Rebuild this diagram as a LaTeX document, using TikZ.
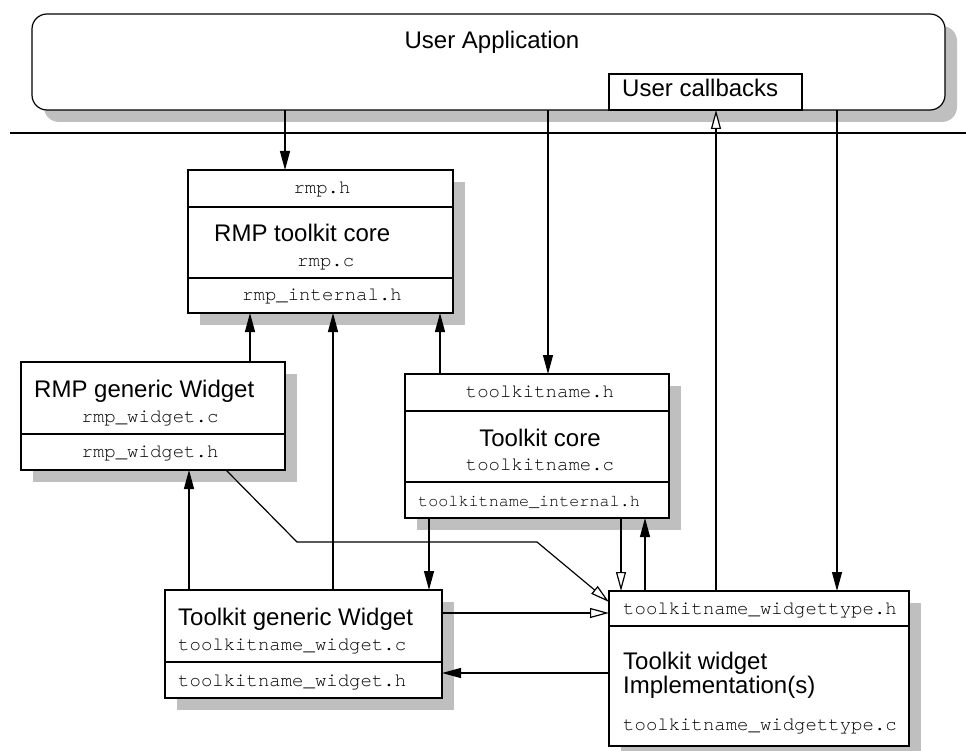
\documentclass[tikz,border=0pt]{standalone}
\usepackage{fontspec}
\setmainfont{Liberation Sans}
\setmonofont{TeX Gyre Cursor}
\usetikzlibrary{arrows.meta,shadows}
\definecolor{shadowgray}{HTML}{BFBFBF}
\tikzset{
  ln/.style={line width=1.2pt},
  boxshadow/.style={drop shadow={shadow xshift=12pt, shadow yshift=-12pt, fill=shadowgray, opacity=1}},
  box/.style={draw, line width=1.2pt, fill=white, anchor=north west,
              inner sep=0pt, outer sep=0pt},
  sans/.style={font=\fontsize{24}{20}\selectfont, inner sep=0pt},
  mono/.style={font=\fontsize{19}{22}\selectfont\ttfamily, inner sep=0pt},
  monosmall/.style={font=\fontsize{16.8}{20}\selectfont\ttfamily, inner sep=0pt},
  fa/.style={line width=1.2pt, -{Triangle[length=19pt,width=10pt]}},
  oa/.style={line width=1.2pt, -{Triangle[open,length=19pt,width=10pt,fill=white]}},
}
\begin{document}
\begin{tikzpicture}[x=1pt,y=-1pt]
\useasboundingbox (0,0) rectangle (966,751);

% application layer
\node[box, boxshadow, rounded corners=15pt, minimum width=913pt, minimum height=96pt] (app) at (32,14) {};
\node[sans, anchor=base] (apptxt) at (492,49) {User Application};
\node[box, minimum width=193pt, minimum height=36pt] (cb) at (609,74) {};
\node[sans, anchor=base west] (cbtxt) at (622,97) {User callbacks};

% separator between application and toolkit
\coordinate (sepL) at (10,133);
\coordinate (sepR) at (966,133);
\draw[ln] (sepL) -- (sepR);

% RMP toolkit core
\node[box, boxshadow, minimum width=265pt, minimum height=143pt] (rmp) at (188,170) {};
\draw[ln] ([yshift=-37pt]rmp.north west) -- ([yshift=-37pt]rmp.north east);
\draw[ln] ([yshift=-108pt]rmp.north west) -- ([yshift=-108pt]rmp.north east);
\node[mono, anchor=base] (rmph) at (322,194) {rmp.h};
\node[sans, anchor=base west] (rmpt) at (214,242) {RMP toolkit core};
\node[mono, anchor=base west] (rmpc) at (297,266) {rmp.c};
\node[mono, anchor=base] (rmpi) at (322,301) {rmp\_internal.h};

% RMP generic widget
\node[box, boxshadow, minimum width=264pt, minimum height=108pt] (rgw) at (21,362) {};
\draw[ln] ([yshift=-72pt]rgw.north west) -- ([yshift=-72pt]rgw.north east);
\node[sans, anchor=base west] (rgwt) at (34,397) {RMP generic Widget};
\node[mono, anchor=base] (rgwc) at (150,422) {rmp\_widget.c};
\node[mono, anchor=base] (rgwh) at (150,457) {rmp\_widget.h};

% toolkit core
\node[box, boxshadow, minimum width=264pt, minimum height=144pt] (tkc) at (405,374) {};
\draw[ln] ([yshift=-37pt]tkc.north west) -- ([yshift=-37pt]tkc.north east);
\draw[ln] ([yshift=-108pt]tkc.north west) -- ([yshift=-108pt]tkc.north east);
\node[mono, anchor=base] (tkch) at (540,397) {toolkitname.h};
\node[sans, anchor=base] (tkct) at (540,446) {Toolkit core};
\node[mono, anchor=base] (tkcc) at (540,470) {toolkitname.c};
\node[monosmall, anchor=base west] (tkci) at (418,506) {toolkitname\_internal.h};

% toolkit generic widget
\node[box, boxshadow, minimum width=277pt, minimum height=108pt] (tgw) at (165,590) {};
\draw[ln] ([yshift=-72pt]tgw.north west) -- ([yshift=-72pt]tgw.north east);
\node[sans, anchor=base west] (tgwt) at (178,625) {Toolkit generic Widget};
\node[mono, anchor=base west] (tgwc) at (178,650) {toolkitname\_widget.c};
\node[mono, anchor=base west] (tgwh) at (178,686) {toolkitname\_widget.h};

% toolkit widget implementation
\node[box, boxshadow, minimum width=300pt, minimum height=155pt] (wt) at (609,591) {};
\draw[ln] ([yshift=-35pt]wt.north west) -- ([yshift=-35pt]wt.north east);
\node[mono, anchor=base west] (wth) at (623,614) {toolkitname\_widgettype.h};
\node[sans, anchor=base west, align=left] (wtt) at (623,693) {Toolkit widget\\Implementation(s)};
\node[mono, anchor=base west] (wtc) at (623,730) {toolkitname\_widgettype.c};

% connectors from the application
\draw[fa] ([xshift=253pt]app.south west) -- ([xshift=253pt]app.south west |- rmp.north);
\draw[fa] ([xshift=516pt]app.south west) -- ([xshift=516pt]app.south west |- tkc.north);
\draw[fa] ([xshift=805pt]app.south west) -- ([xshift=805pt]app.south west |- wt.north);
\draw[oa] ([xshift=107pt]wt.north west) -- ([xshift=107pt]wt.north west |- cb.south);

% connectors into the RMP core
\draw[fa] ([xshift=229pt]rgw.north west) -- ([xshift=229pt]rgw.north west |- rmp.south);
\draw[fa] ([xshift=168pt]tgw.north west) -- ([xshift=168pt]tgw.north west |- rmp.south);
\draw[fa] ([xshift=35pt]tkc.north west) -- ([xshift=35pt]tkc.north west |- rmp.south);

% connectors around the toolkit core
\draw[fa] ([xshift=24pt]tkc.south west) -- ([xshift=24pt]tkc.south west |- tgw.north);
\draw[oa] ([xshift=216pt]tkc.south west) -- ([xshift=216pt]tkc.south west |- wt.north);
\draw[fa] ([xshift=36pt]wt.north west) -- ([xshift=36pt]wt.north west |- tkc.south);

% connectors between the widgets
\draw[fa] ([xshift=24pt]tgw.north west) -- ([xshift=24pt]tgw.north west |- rgw.south);
\draw[oa] ([yshift=-23pt]tgw.north east) -- ([yshift=-23pt]tgw.north east -| wt.west);
\draw[fa] ([yshift=-82pt]wt.north west) -- ([yshift=-82pt]wt.north west -| tgw.east);
\draw[oa] ([xshift=205pt]rgw.south west) -- ++(71,72) -- ++(240,0) -- ([yshift=-11pt]wt.north west);
\end{tikzpicture}
\end{document}
